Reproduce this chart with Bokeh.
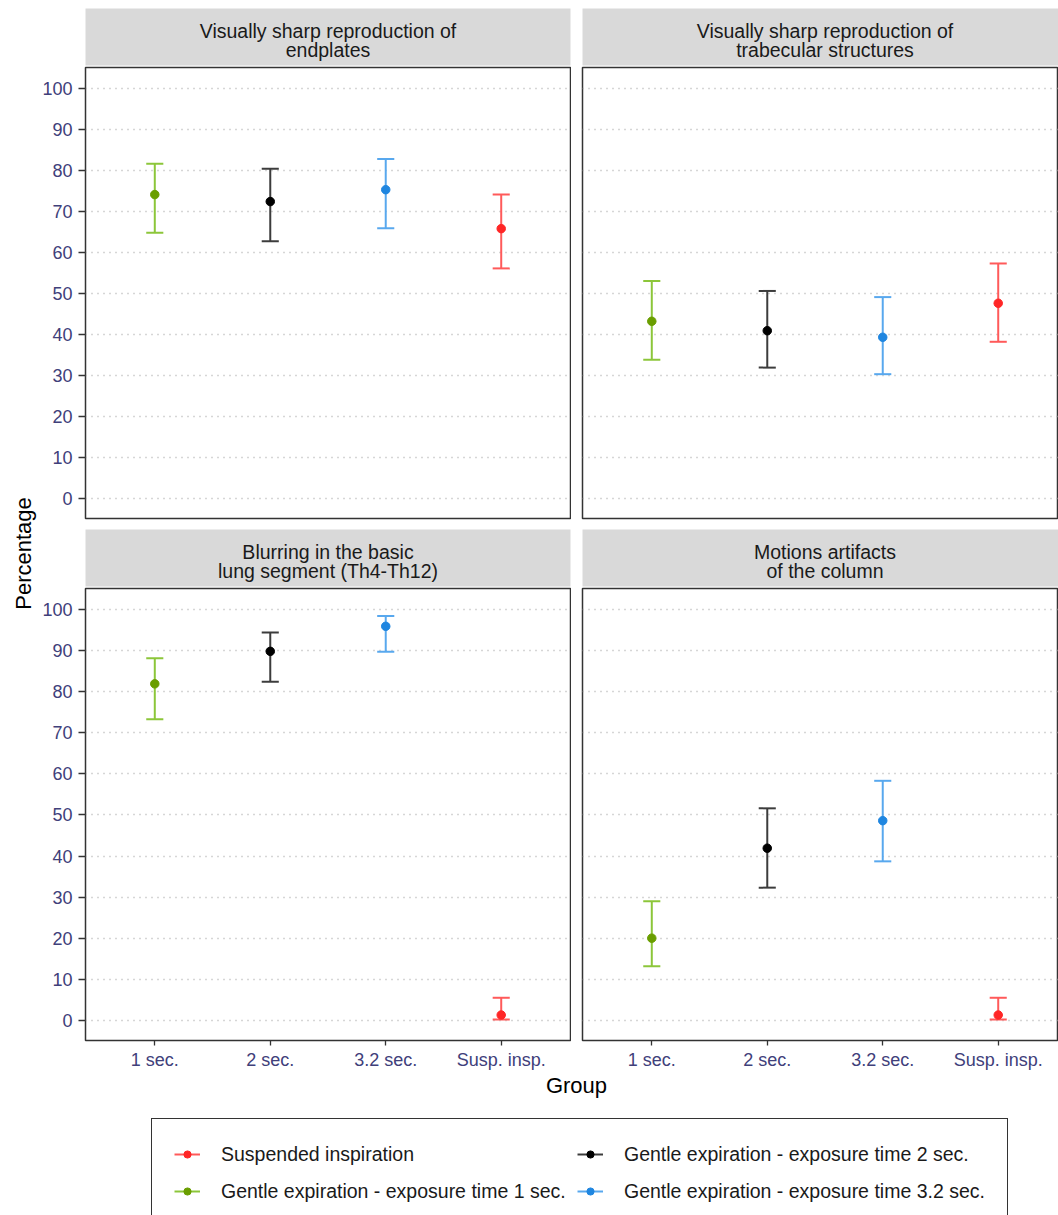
from math import pi
from bokeh.plotting import figure
from bokeh.models import Range1d, FixedTicker, Label, Legend, LegendItem, ColumnDataSource
from bokeh.layouts import row, column
from bokeh.embed import file_html
from bokeh.resources import INLINE

# ---------------- data ----------------
groups = ["1 sec.", "2 sec.", "3.2 sec.", "Susp. insp."]
group_series = ["Gentle expiration - exposure time 1 sec.",
                "Gentle expiration - exposure time 2 sec.",
                "Gentle expiration - exposure time 3.2 sec.",
                "Suspended inspiration"]
legend_order = ["Suspended inspiration",
                "Gentle expiration - exposure time 1 sec.",
                "Gentle expiration - exposure time 2 sec.",
                "Gentle expiration - exposure time 3.2 sec."]

facet_titles = [["Visually sharp reproduction of", "endplates"],
                ["Visually sharp reproduction of", "trabecular structures"],
                ["Blurring in the basic", "lung segment (Th4-Th12)"],
                ["Motions artifacts", "of the column"]]

endplates_mean = [74.1, 72.4, 75.3, 65.8]
endplates_lower = [64.8, 62.7, 65.9, 56.1]
endplates_upper = [81.6, 80.4, 82.8, 74.1]

trabecular_mean = [43.2, 40.9, 39.3, 47.6]
trabecular_lower = [33.8, 31.9, 30.3, 38.2]
trabecular_upper = [53.0, 50.6, 49.1, 57.3]

blurring_mean = [81.9, 89.8, 95.9, 1.3]
blurring_lower = [73.3, 82.4, 89.7, 0.2]
blurring_upper = [88.1, 94.4, 98.4, 5.5]

motion_mean = [20.0, 41.9, 48.6, 1.3]
motion_lower = [13.2, 32.3, 38.7, 0.2]
motion_upper = [29.0, 51.6, 58.3, 5.5]

y_ticks = [0, 10, 20, 30, 40, 50, 60, 70, 80, 90, 100]

x_label = "Group"
y_label = "Percentage"

# ---------------- style ----------------
point_color = {"Suspended inspiration": "#FF2626",
               "Gentle expiration - exposure time 1 sec.": "#6A9E00",
               "Gentle expiration - exposure time 2 sec.": "#000000",
               "Gentle expiration - exposure time 3.2 sec.": "#1F86E0"}
bar_color = {"Suspended inspiration": "#FF5A5A",
             "Gentle expiration - exposure time 1 sec.": "#8CC63A",
             "Gentle expiration - exposure time 2 sec.": "#3C3C3C",
             "Gentle expiration - exposure time 3.2 sec.": "#58A8EE"}

FONT = "Liberation Sans"
TICK_COL = "#40407A"
BORDER = "#333333"

facets = [(endplates_mean, endplates_lower, endplates_upper),
          (trabecular_mean, trabecular_lower, trabecular_upper),
          (blurring_mean, blurring_lower, blurring_upper),
          (motion_mean, motion_lower, motion_upper)]

xpos = [i + 1 for i in range(len(groups))]
CAP = 0.074


def xr_for(left):
    return Range1d(0.4, 4.6) if left else Range1d(0.4, 4.522)


def make_strip(idx):
    left = idx % 2 == 0
    top = idx < 2
    s = figure(frame_width=485 if left else 476, frame_height=57,
               x_range=xr_for(left), y_range=Range1d(0, 57),
               x_axis_location=None, y_axis_location=None,
               min_border_left=47 if left else 11, min_border_right=1 if left else 0,
               min_border_top=8 if top else 0, min_border_bottom=1,
               background_fill_color="#D9D9D9", border_fill_color="white",
               outline_line_color=None, toolbar_location=None, output_backend="svg")
    s.grid.visible = False
    for line, yy in zip(facet_titles[idx], [35, 16]):
        s.add_layout(Label(x=2.5, y=yy, text=line, text_align="center",
                           text_baseline="middle", text_font=FONT,
                           text_font_size="19.5px", text_color="#1A1A1A"))
    return s


def make_panel(idx):
    left = idx % 2 == 0
    bottom = idx >= 2
    mean, lower, upper = facets[idx]
    p = figure(frame_width=485 if left else 476, frame_height=452 if bottom else 451,
               x_range=xr_for(left), y_range=Range1d(-4.9, 105.1),
               x_axis_location="below" if bottom else None,
               y_axis_location="left" if left else None,
               min_border_left=47 if left else 11, min_border_right=1 if left else 0,
               min_border_top=1, min_border_bottom=34 if bottom else 11,
               background_fill_color="white", border_fill_color="white",
               outline_line_color=BORDER, outline_line_width=1.5,
               toolbar_location=None, output_backend="svg")
    p.xgrid.visible = False
    p.ygrid.ticker = FixedTicker(ticks=y_ticks)
    p.ygrid.grid_line_color = "#ADADAD"
    p.ygrid.grid_line_dash = "1 5"
    p.ygrid.grid_line_width = 1.3
    if left:
        ax = p.yaxis[0]
        ax.ticker = FixedTicker(ticks=y_ticks)
        ax.axis_line_color = None
        ax.major_tick_out = 7
        ax.major_tick_in = 0
        ax.minor_tick_line_color = None
        ax.major_tick_line_color = BORDER
        ax.major_tick_line_width = 1.3
        ax.major_label_standoff = 6
        ax.major_label_text_font = FONT
        ax.major_label_text_font_size = "18px"
        ax.major_label_text_color = TICK_COL
    if bottom:
        ax = p.xaxis[0]
        ax.ticker = FixedTicker(ticks=xpos)
        ax.major_label_overrides = {x: g for x, g in zip(xpos, groups)}
        ax.axis_line_color = None
        ax.major_tick_out = 5
        ax.major_tick_in = 0
        ax.minor_tick_line_color = None
        ax.major_tick_line_color = BORDER
        ax.major_tick_line_width = 1.3
        ax.major_label_standoff = 4
        ax.major_label_text_font = FONT
        ax.major_label_text_font_size = "18px"
        ax.major_label_text_color = TICK_COL

    src = ColumnDataSource(dict(
        x=xpos, mean=mean, lower=lower, upper=upper,
        cl=[x - CAP for x in xpos], cr=[x + CAP for x in xpos],
        bar=[bar_color[s] for s in group_series],
        pt=[point_color[s] for s in group_series]))
    p.segment(x0="x", y0="lower", x1="x", y1="upper", line_color="bar", line_width=2, source=src)
    p.segment(x0="cl", y0="upper", x1="cr", y1="upper", line_color="bar", line_width=2, source=src)
    p.segment(x0="cl", y0="lower", x1="cr", y1="lower", line_color="bar", line_width=2, source=src)
    p.scatter(x="x", y="mean", size=8.5, fill_color="pt", line_color="pt", source=src)
    return p


strips = [make_strip(i) for i in range(4)]
panels = [make_panel(i) for i in range(4)]

# y axis title
ylab = figure(frame_width=38, frame_height=1215, x_range=Range1d(0, 38), y_range=Range1d(0, 1215),
              x_axis_location=None, y_axis_location=None,
              min_border_left=0, min_border_right=0, min_border_top=0, min_border_bottom=0,
              outline_line_color=None, toolbar_location=None, output_backend="svg")
ylab.grid.visible = False
ylab.add_layout(Label(x=23, y=662, text=y_label, angle=pi / 2, text_align="center",
                      text_baseline="middle", text_font=FONT, text_font_size="22px",
                      text_color="#000000"))

# footer: x axis title + legend
foot = figure(frame_width=1020, frame_height=141, x_range=Range1d(0, 1020), y_range=Range1d(0, 141),
              x_axis_location=None, y_axis_location=None,
              min_border_left=0, min_border_right=0, min_border_top=0, min_border_bottom=0,
              outline_line_color=None, toolbar_location=None, output_backend="svg")
foot.grid.visible = False
foot.add_layout(Label(x=538, y=130, text=x_label, text_align="center", text_baseline="middle",
                      text_font=FONT, text_font_size="22px", text_color="#000000"))

# legend keys: placeholder glyphs kept outside the visible range
items = []
for name in legend_order:
    r1 = foot.line(x=[-1000, -999], y=[-1000, -1000], line_color=bar_color[name], line_width=2)
    r2 = foot.scatter(x=[-1000], y=[-1000], size=8, fill_color=point_color[name],
                      line_color=point_color[name])
    items.append(LegendItem(label=name, renderers=[r1, r2]))

legend = Legend(items=items, ncols=2, location=(113, -12), margin=0, padding=22, spacing=11,
                glyph_width=26, glyph_height=18, label_standoff=21, label_width=345,
                label_height=26, label_text_font=FONT, label_text_font_size="19.5px",
                label_text_color="#1A1A1A", border_line_color=BORDER, border_line_width=1.4,
                border_line_alpha=1.0,
                background_fill_color="white", background_fill_alpha=1.0)
foot.add_layout(legend, "center")

grid = column(row(strips[0], strips[1]), row(panels[0], panels[1]),
              row(strips[2], strips[3]), row(panels[2], panels[3]), foot)
layout = row(ylab, grid)

open("out.html", "w").write(file_html(layout, INLINE))
